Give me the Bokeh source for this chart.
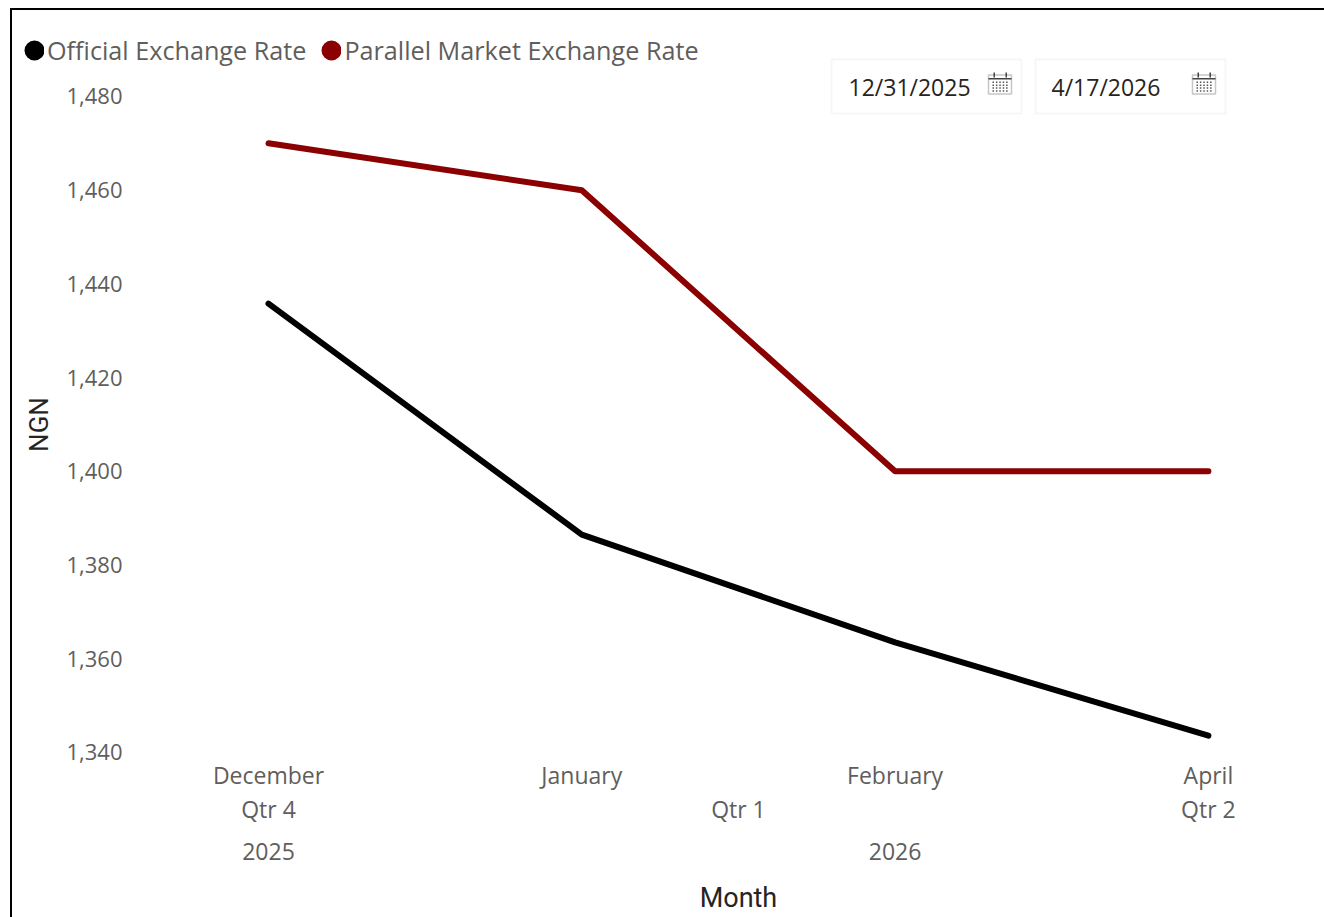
from bokeh.plotting import figure
from bokeh.models import (Range1d, FixedTicker, ColumnDataSource,
                          Legend, LegendItem, BoxAnnotation, Label, LinearAxis)
from bokeh.embed import file_html
from bokeh.resources import INLINE

month_pos = [0, 1, 2, 3]
months = ["December", "January", "February", "April"]
quarter_pos = [0, 1.5, 3]
quarters = ["Qtr 4", "Qtr 1", "Qtr 2"]
year_pos = [0, 2]
years = ["2025", "2026"]
official = [1435.8, 1386.5, 1363.5, 1343.6]
parallel = [1470, 1460, 1400, 1400]
y_ticks = [1340, 1360, 1380, 1400, 1420, 1440, 1460, 1480]
date_labels = ["12/31/2025", "4/17/2026"]
x_title_pos = [1.5]
y_title_pos = [1410]

FONT = "Open Sans"
TITLE_FONT = "Roboto"
GREY = "#605E5C"
TITLE = "#252423"

W, H = 1324, 917
p = figure(width=W, height=H, output_backend="svg", toolbar_location=None,
           x_range=Range1d(-0.8107, 3.345), y_range=Range1d(1338.29, 1498.35),
           x_axis_type=None, y_axis_type=None,
           min_border_left=14, min_border_right=8, min_border_top=10, min_border_bottom=157)
p.outline_line_color = None
p.grid.visible = False
p.border_fill_color = None
p.background_fill_color = None
p.styles = {"background": "linear-gradient(#000,#000) 10px 8px/100% 2px no-repeat, linear-gradient(#000,#000) 10px 8px/2px 100% no-repeat"}

src = ColumnDataSource(dict(x=month_pos, official=official, parallel=parallel))
p.line("x", "official", source=src, line_color="#000000", line_width=6, line_cap="round", line_join="round")
p.line("x", "parallel", source=src, line_color="#8B0000", line_width=6, line_cap="round", line_join="round")
nan = float("nan")
m1 = p.scatter(x=[nan], y=[nan], size=20, line_width=12, color="#000000")
m2 = p.scatter(x=[nan], y=[nan], size=20, line_width=12, color="#8B0000")

legend = Legend(items=[LegendItem(label="Official Exchange Rate", renderers=[m1]),
                       LegendItem(label="Parallel Market Exchange Rate", renderers=[m2])],
                orientation="horizontal", location=(10, 693), background_fill_alpha=0, border_line_color=None,
                label_text_font=FONT, label_text_font_size="25.2px", label_text_color=GREY,
                glyph_width=20, glyph_height=22, label_standoff=3, spacing=15, padding=0, margin=0)
p.add_layout(legend, "center")

def style_axis(ax, ticks, labels, font, size, color, standoff):
    ax.ticker = FixedTicker(ticks=ticks)
    ax.major_label_overrides = dict(zip(ticks, labels))
    ax.axis_line_color = None
    ax.major_tick_line_color = None
    ax.minor_tick_line_color = None
    ax.major_tick_out = 0
    ax.major_tick_in = 0
    ax.minor_tick_out = 0
    ax.minor_tick_in = 0
    ax.major_label_text_font = font
    ax.major_label_text_font_size = size
    ax.major_label_text_color = color
    ax.major_label_standoff = standoff

ya = LinearAxis()
style_axis(ya, y_ticks, [f"{v:,}" for v in y_ticks], FONT, "22px", GREY, -108)
p.add_layout(ya, "left")

yt = LinearAxis()
style_axis(yt, y_title_pos, ["NGN"], TITLE_FONT, "26px", TITLE, -40)
yt.major_label_orientation = "vertical"
p.add_layout(yt, "left")

for ticks, labels, font, size, color, standoff in [
        (month_pos, months, FONT, "23px", GREY, -2),
        (quarter_pos, quarters, FONT, "23px", GREY, -1),
        (year_pos, years, FONT, "23px", GREY, 15),
        (x_title_pos, ["Month"], TITLE_FONT, "27px", TITLE, 19)]:
    ax = LinearAxis()
    style_axis(ax, ticks, labels, font, size, color, standoff)
    p.add_layout(ax, "below")

def cbox(l, r, t, b, **kw):
    args = dict(fill_color=None, line_color=None, level="overlay")
    args.update(kw)
    p.add_layout(BoxAnnotation(left=l, right=r, top=t, bottom=b, left_units="canvas", right_units="canvas",
                               top_units="canvas", bottom_units="canvas", **args))

# date slicer boxes
for text, bx, tx, ix in zip(date_labels, [831, 1035], [848, 1051], [988, 1192]):
    cbox(bx, bx + 190, 59, 113, line_color="#E1E1E1", line_width=2, fill_color="#FFFFFF", fill_alpha=1)
    p.add_layout(Label(x=tx, y=86, x_units="canvas", y_units="canvas", text=text, text_font=FONT,
                       text_font_size="23px", text_color="#252423", text_baseline="middle", level="overlay"))
    cbox(ix, ix + 23, 74.5, 93.5, line_color="#444444", line_width=1.5, fill_color="#FFFFFF", fill_alpha=1)
    cbox(ix, ix + 23, 77.5, 79, fill_color="#444444", fill_alpha=1)
    for tick in (5, 17):
        cbox(ix + tick, ix + tick + 1.5, 72, 77, fill_color="#444444", fill_alpha=1)
    for r in range(4):
        for c in range(5):
            cbox(ix + 4 + c * 3.4, ix + 5.5 + c * 3.4, 81 + r * 2.9, 82.5 + r * 2.9, fill_color="#555555", fill_alpha=1)

open("out.html", "w").write(file_html(p, INLINE))
